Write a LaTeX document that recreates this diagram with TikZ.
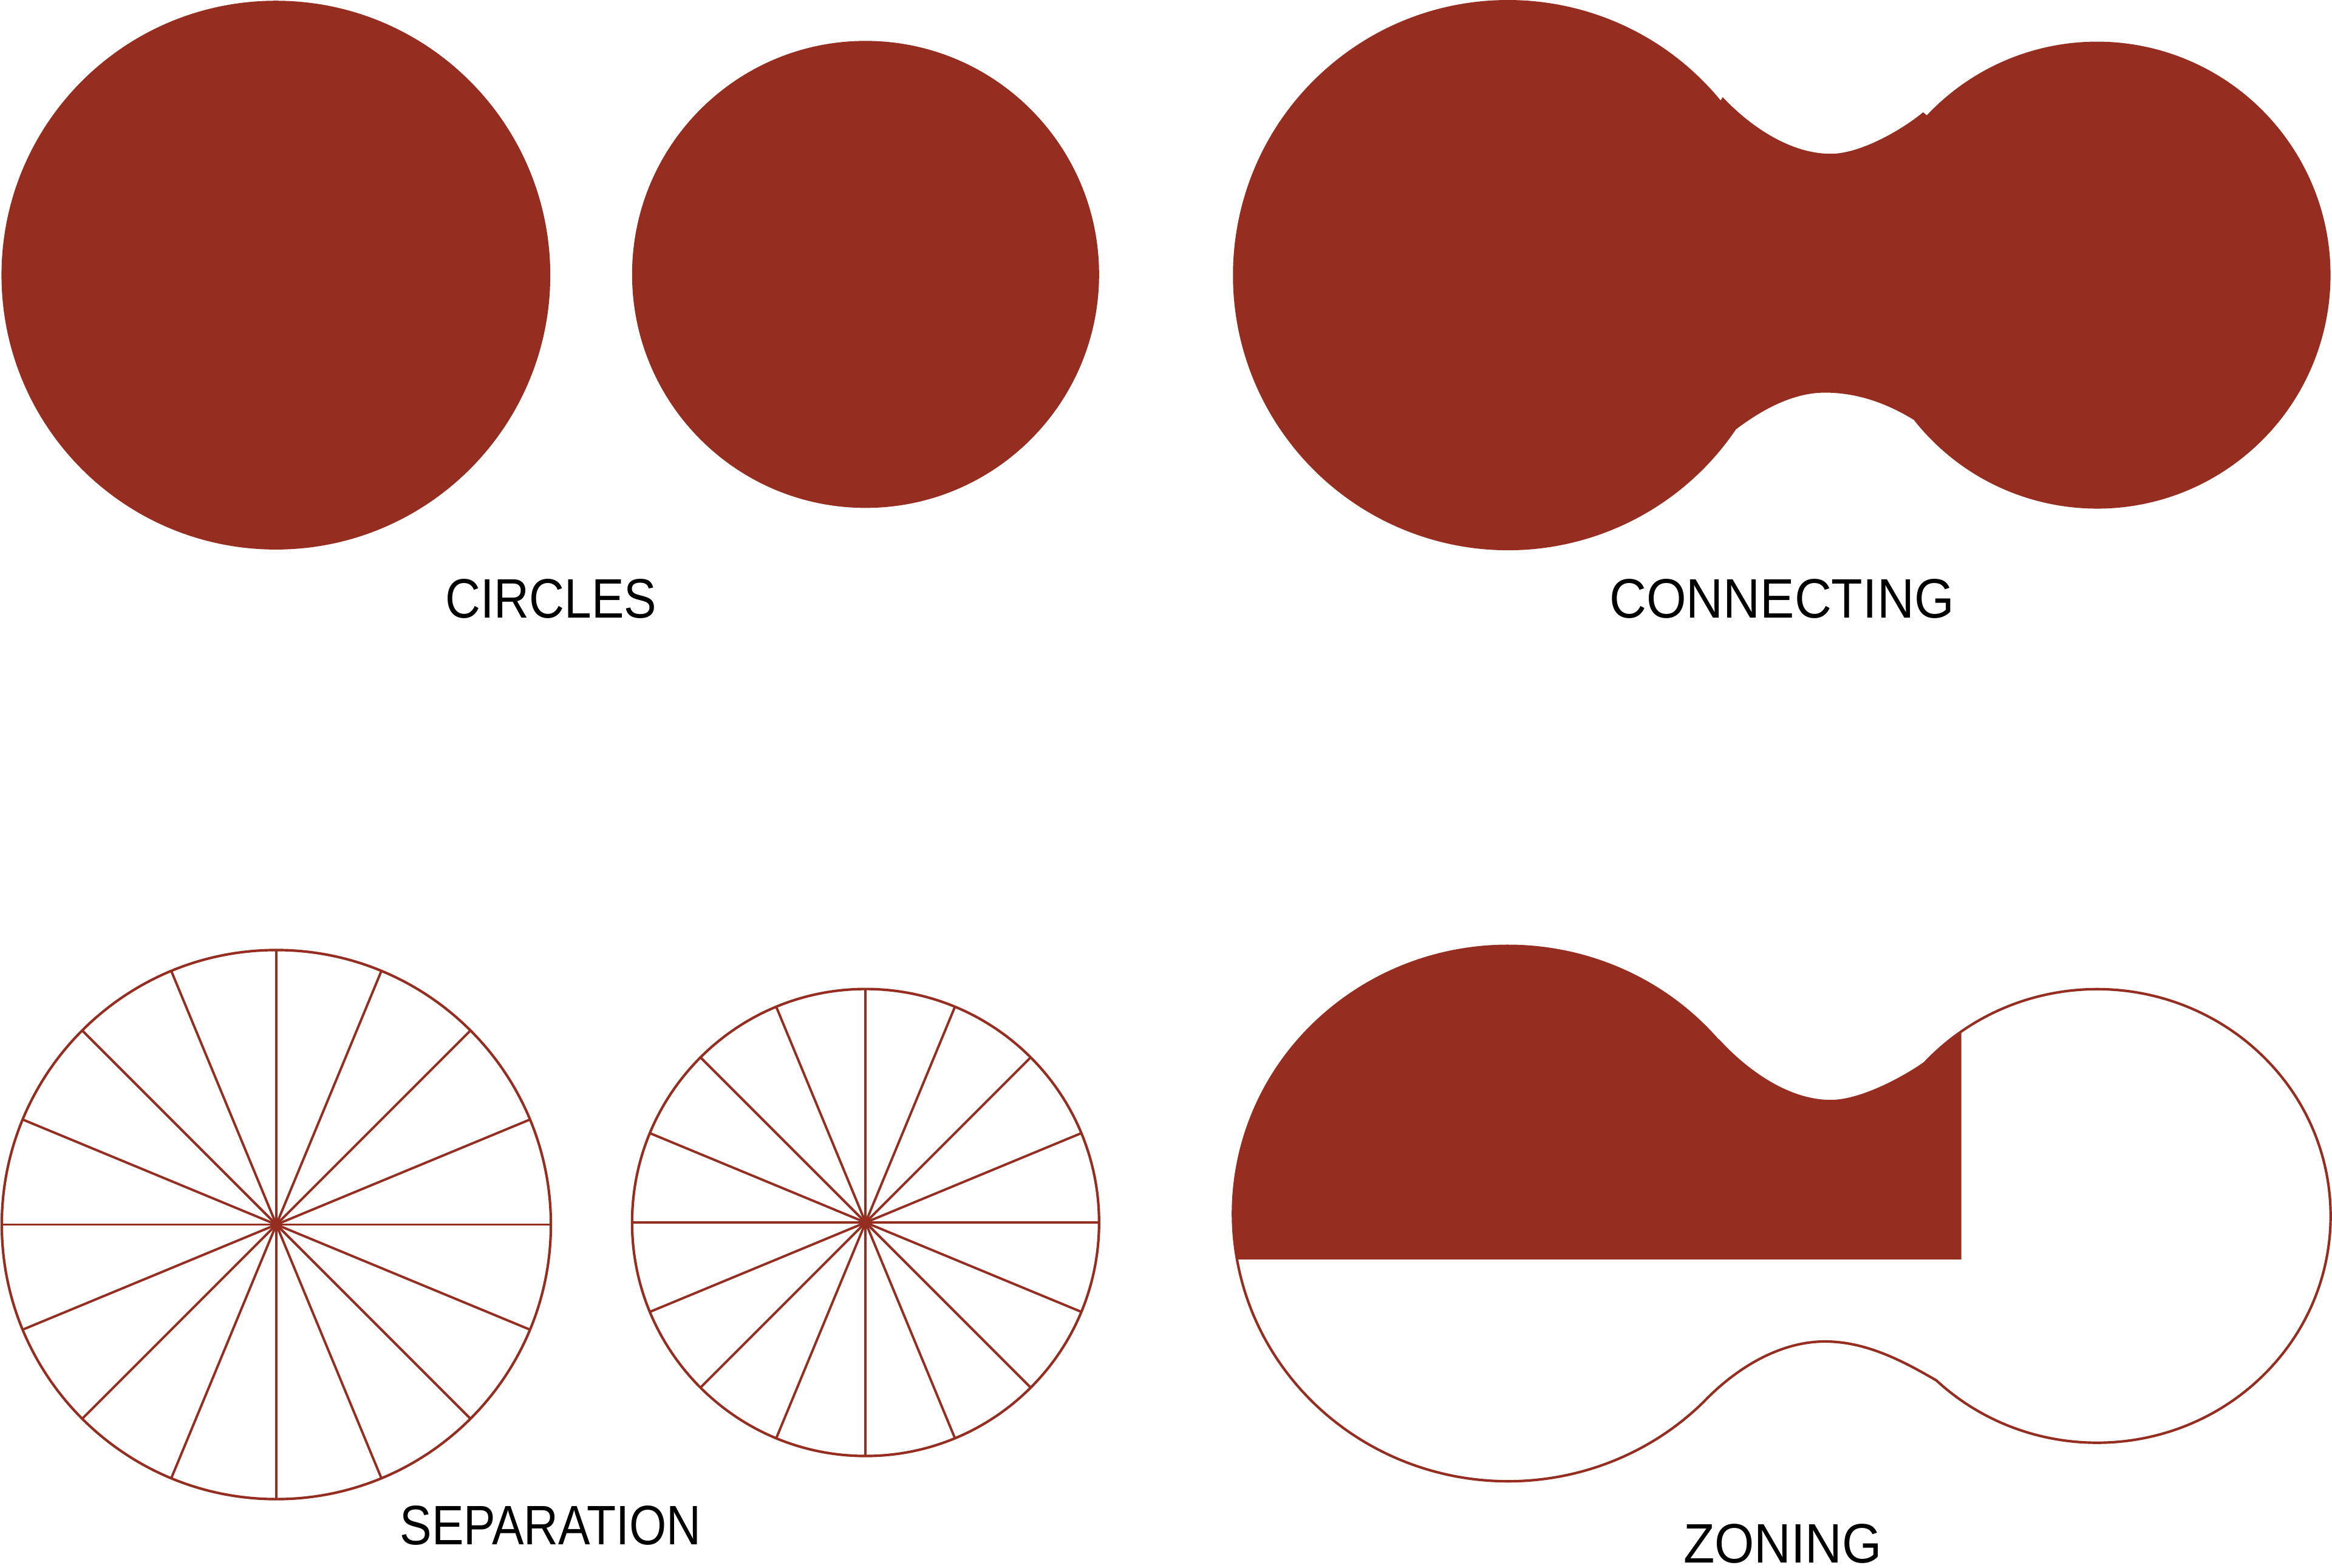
\documentclass[tikz,border=0pt]{standalone}
\usepackage{graphicx}
\usepackage{fontspec}
\setmainfont{Liberation Sans}
\usetikzlibrary{calc}
\definecolor{rust}{RGB}{149,46,33}
\begin{document}
\begin{tikzpicture}[x=1pt,y=-1pt,
  lbl/.style={font=\fontsize{37.4}{40}\selectfont, inner sep=0pt, anchor=base, text=black},
  spoke/.style={draw=rust, line width=1.6pt},
  outline/.style={draw=rust, line width=1.7pt}]
\useasboundingbox (0,0) rectangle (1568,1054.3);

% ---- CIRCLES ----
\fill[rust] (185.5,185) circle[radius=184.5];
\fill[rust] (582,184.5) circle[radius=157];

% ---- CONNECTING ----
\coordinate (L1) at (1014,185);
\coordinate (R1) at (1410,185);
\fill[rust] ($(L1)+(-39.4:185)$) coordinate (t1)
  arc[start angle=-39.4, end angle=-325.9, radius=185]
  .. controls (1184,276) and (1205,264) .. (1227,264)
  .. controls (1250,264) and (1270,272) .. ($(R1)+(141.7:157)$)
  arc[start angle=141.7, end angle=-136.8, radius=157]
  -- (1293,75.5)
  .. controls (1281,85.7) and (1252,103.4) .. (1231,103.4)
  .. controls (1200,103.4) and (1172,80) .. (1158.3,65.3) -- cycle;

% ---- SEPARATION ----
\coordinate (S1) at (185.8,823.4);
\coordinate (S2) at (582,822);
\draw[outline] (S1) circle[radius=184.6];
\draw[outline] (S2) circle[radius=157];
\foreach \a in {0,22.5,...,157.5}{
  \draw[spoke] ($(S1)+(\a:184.6)$) -- ($(S1)+(\a+180:184.6)$);
  \draw[spoke] ($(S2)+(\a:157)$) -- ($(S2)+(\a+180:157)$);
}

% ---- ZONING ----
\def\zoningpath{(1159,704.2)
  arc[start angle=-38.4, end angle=-315.3, x radius=185, y radius=180]
  .. controls (1167.5,919.6) and (1197,902) .. (1227,902)
  .. controls (1255,902) and (1280,915.4) .. (1302,928.2)
  arc[start angle=133.5, end angle=-137.6, x radius=157, y radius=152.5]
  .. controls (1282,723.5) and (1252,740.4) .. (1231,740.4)
  .. controls (1200,740.4) and (1172,717) .. (1158.3,702.6) -- cycle}
\begin{scope}
  \clip (0,0) rectangle (1318.7,846.6);
  \fill[rust] \zoningpath;
\end{scope}
\draw[outline] \zoningpath;

% ---- LABELS ----
\node[lbl] (circles) at (370.5,415.4) {\scalebox{0.876}[1]{CIRCLES}};
\node[lbl] (connecting) at (1198,415.4) {\scalebox{0.922}[1]{CONNECTING}};
\node[lbl] (separation) at (370.2,1038.5) {\scalebox{0.86}[1]{SEPARATION}};
\node[lbl] (zoning) at (1198.6,1050.8) {\scalebox{0.917}[1]{ZONING}};
\end{tikzpicture}
\end{document}
